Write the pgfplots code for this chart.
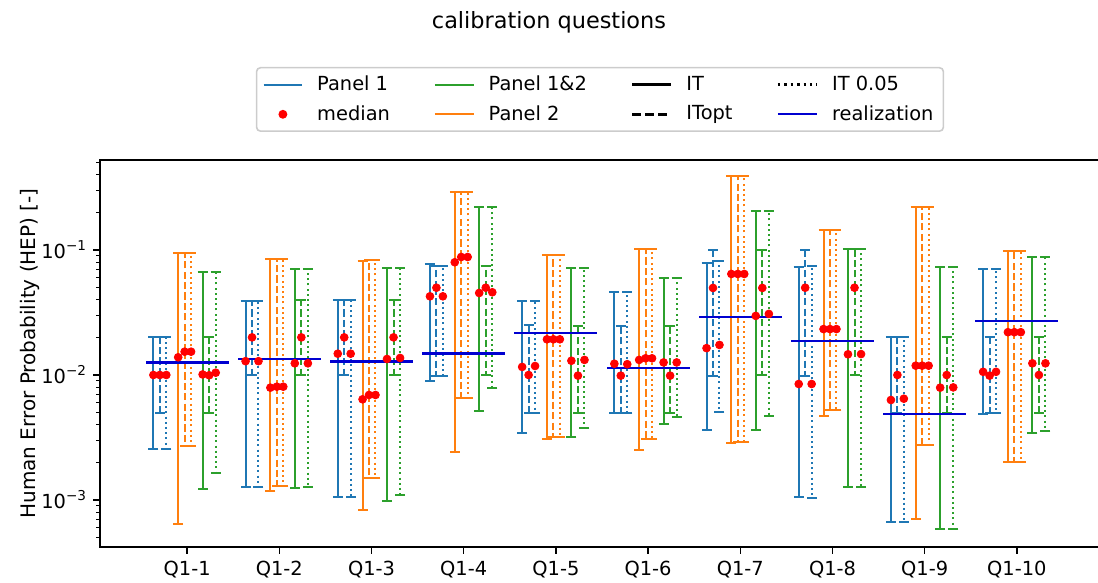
\documentclass[border=0pt]{standalone}
\usepackage{pgfplots}
\pgfplotsset{compat=1.18}
\usepackage{pgfplotstable}
\usepackage{fontspec}
\setmainfont{DejaVu Sans}

\definecolor{c1}{HTML}{1F77B4}
\definecolor{c2}{HTML}{FF7F0E}
\definecolor{c3}{HTML}{2CA02C}
\definecolor{realblue}{HTML}{0000D0}

% Panel 1 (blue): median/low/high for IT (1), ITopt (2), IT 0.05 (3)
\pgfplotstableread{
i m1 l1 h1 m2 l2 h2 m3 l3 h3
0 0.0100 0.00254 0.0202 0.0100 0.0050 0.0202 0.0100 0.00256 0.0200
1 0.0129 0.00128 0.0393 0.0200 0.0100 0.0393 0.0129 0.00128 0.0393
2 0.0148 0.00106 0.0396 0.0200 0.0100 0.0396 0.0148 0.00106 0.0396
3 0.0426 0.0089 0.0769 0.0499 0.00988 0.0745 0.0426 0.00988 0.0745
4 0.0116 0.00343 0.0389 0.0100 0.0050 0.0250 0.0118 0.0050 0.0389
5 0.0123 0.0050 0.0461 0.00988 0.0050 0.0248 0.0122 0.0050 0.0461
6 0.0164 0.0036 0.0791 0.0497 0.00988 0.0996 0.0174 0.00503 0.0817
7 0.00847 0.00105 0.0731 0.0499 0.00988 0.1000 0.00847 0.00104 0.0741
8 0.00631 0.00067 0.0200 0.0100 0.0050 0.0200 0.00646 0.00067 0.0200
9 0.0106 0.00491 0.0705 0.00988 0.0050 0.0200 0.0106 0.0050 0.0705
}\pone

% Panel 2 (orange)
\pgfplotstableread{
i m1 l1 h1 m2 l2 h2 m3 l3 h3
0 0.01386 0.000643 0.0951 0.01536 0.00269 0.0951 0.01536 0.00269 0.0951
1 0.00792 0.00119 0.0853 0.00806 0.00129 0.0853 0.00806 0.00129 0.0853
2 0.00639 0.000827 0.0817 0.00692 0.0015 0.0824 0.00692 0.0015 0.0824
3 0.0798 0.00242 0.2896 0.0879 0.00659 0.2896 0.0879 0.00659 0.2896
4 0.0193 0.0031 0.0912 0.0193 0.00318 0.0912 0.0193 0.00318 0.0912
5 0.0132 0.0025 0.1014 0.0136 0.00308 0.1014 0.0136 0.00308 0.1014
6 0.0643 0.00288 0.391 0.0643 0.00293 0.391 0.0643 0.00293 0.391
7 0.0233 0.00473 0.1445 0.0233 0.00525 0.1445 0.0233 0.00525 0.1445
8 0.01187 0.0007 0.22 0.01187 0.00274 0.22 0.01187 0.00274 0.22
9 0.0220 0.00201 0.0977 0.0220 0.00201 0.0977 0.0220 0.00201 0.0977
}\ptwo

% Panel 1&2 (green)
\pgfplotstableread{
i m1 l1 h1 m2 l2 h2 m3 l3 h3
0 0.0101 0.00122 0.0667 0.00995 0.0050 0.0200 0.01043 0.001654 0.0667
1 0.0124 0.00125 0.0705 0.0200 0.0100 0.0396 0.0124 0.00126 0.0705
2 0.01343 0.00099 0.0718 0.0200 0.0100 0.0396 0.01368 0.0011 0.0718
3 0.0453 0.00519 0.2208 0.0499 0.0100 0.0741 0.0459 0.00782 0.2208
4 0.0130 0.00321 0.0718 0.00988 0.0050 0.0248 0.0132 0.00379 0.0718
5 0.0126 0.00406 0.0594 0.00988 0.0050 0.0248 0.0126 0.00464 0.0594
6 0.0297 0.00363 0.206 0.0497 0.0100 0.1000 0.0308 0.00467 0.206
7 0.01464 0.00126 0.1019 0.0499 0.0100 0.1019 0.0147 0.00126 0.1019
8 0.00792 0.000582 0.0726 0.00999 0.0050 0.0200 0.00796 0.000582 0.0735
9 0.0124 0.00343 0.0874 0.0100 0.0050 0.0200 0.0124 0.00355 0.0874
}\pboth

% realization
\pgfplotstableread{
i r
0 0.01256
1 0.01343
2 0.0128
3 0.0149
4 0.0217
5 0.01132
6 0.0292
7 0.0187
8 0.00488
9 0.0270
}\preal

% #1 table, #2 x offset, #3 colour, #4 dash style, #5 column suffix
\newcommand{\ebar}[5]{%
\addplot[forget plot, draw=none, mark=none,
  error bars/.cd, y dir=both, y explicit, error mark=-,
  error bar style={draw=#3, line width=1pt, #4},
  error mark options={draw=#3, solid, line width=1pt, mark size=2.5pt, rotate=90}]
  table[x expr=\thisrow{i}+#2, y=m#5,
        y error plus expr=\thisrow{h#5}-\thisrow{m#5},
        y error minus expr=\thisrow{m#5}-\thisrow{l#5}] {#1};
}
\newcommand{\med}[3]{%
\addplot[forget plot, only marks, mark=*, draw=red, fill=red, mark size=1.95pt]
  table[x expr=\thisrow{i}+#2, y=m#3] {#1};
}
\newcommand{\expo}[1]{10\raisebox{0.42em}{\fontsize{6.8}{8}\selectfont −#1}}

\tikzset{dsh/.style={dash pattern=on 3.6pt off 1.6pt}, dtt/.style={dash pattern=on 1pt off 1.6pt}}

\begin{document}
\begin{tikzpicture}
\begin{axis}[
  at={(0,0)}, anchor=south west,
  scale only axis, width=502pt, height=193.5pt,
  ymode=log, ymin=4.207e-4, ymax=0.5248,
  xmin=-0.945, xmax=9.945,
  xtick={0,...,9},
  xticklabels={Q1-1,Q1-2,Q1-3,Q1-4,Q1-5,Q1-6,Q1-7,Q1-8,Q1-9,Q1-10},
  ytick={1e-3,1e-2,1e-1},
  yticklabels={\expo{3},\expo{2},\expo{1}},
  minor ytick={5e-4,6e-4,7e-4,8e-4,9e-4,2e-3,3e-3,4e-3,5e-3,6e-3,7e-3,8e-3,9e-3,2e-2,3e-2,4e-2,5e-2,6e-2,7e-2,8e-2,9e-2,2e-1,3e-1,4e-1,5e-1},
  tick align=outside, tick pos=left,
  major tick length=3.4pt, minor tick length=1.9pt,
  every tick/.append style={black, line width=0.75pt},
  every minor tick/.append style={line width=0.6pt},
  axis line style={line width=0.8pt},
  tick label style={font=\fontsize{9.7}{11.6}\selectfont},
  label style={font=\fontsize{9.7}{11.6}\selectfont},
  ylabel={Human Error Probability (HEP) [-]},
  every axis y label/.style={at={(axis description cs:-0.0697,0.5)}, rotate=90, anchor=center},
  title={calibration questions},
  every axis title/.style={at={(axis description cs:0.4472,1.3566)}, anchor=center, font=\fontsize{11.2}{13.4}\selectfont},
  legend columns=4,
  legend cell align=left,
  legend image code/.code={\draw[mark repeat=2,mark phase=2] plot coordinates {(0cm,0cm) (0.34cm,0cm) (0.68cm,0cm)};},
  legend style={at={(axis description cs:0.498,1.0724)}, anchor=south,
    draw=black!20, rounded corners=2pt, line width=0.8pt,
    font=\fontsize{9.7}{11.6}\selectfont,
    /tikz/every odd column/.append style={column sep=5pt},
    /tikz/every even column/.append style={column sep=20pt},
    row sep=2pt},
]
% legend entries (row-wise order)
\addlegendimage{c1, line width=1pt}
\addlegendentry{Panel 1}
\addlegendimage{c3, line width=1pt}
\addlegendentry{Panel 1\&2}
\addlegendimage{black, line width=1.4pt}
\addlegendentry{IT}
\addlegendimage{black, line width=1.4pt, dash pattern=on 1.2pt off 2pt}
\addlegendentry{IT 0.05}
\addlegendimage{only marks, mark=*, draw=red, fill=red, mark size=1.8pt}
\addlegendentry{median}
\addlegendimage{c2, line width=1pt}
\addlegendentry{Panel 2}
\addlegendimage{black, line width=1.4pt, dash pattern=on 4.5pt off 2pt}
\addlegendentry{ITopt}
\addlegendimage{realblue, line width=1pt}
\addlegendentry{realization}

% error bars
\ebar{\pone}{-0.366}{c1}{solid}{1}
\ebar{\pone}{-0.296}{c1}{dsh}{2}
\ebar{\pone}{-0.226}{c1}{dtt}{3}
\ebar{\ptwo}{-0.097}{c2}{solid}{1}
\ebar{\ptwo}{-0.027}{c2}{dsh}{2}
\ebar{\ptwo}{0.043}{c2}{dtt}{3}
\ebar{\pboth}{0.168}{c3}{solid}{1}
\ebar{\pboth}{0.239}{c3}{dsh}{2}
\ebar{\pboth}{0.310}{c3}{dtt}{3}

% realization
\addplot[forget plot, draw=none, mark=none,
  error bars/.cd, x dir=both, x fixed=0.45, error mark=none,
  error bar style={draw=realblue, line width=1.2pt, solid}]
  table[x=i, y=r] {\preal};

% medians
\med{\pone}{-0.366}{1}
\med{\pone}{-0.296}{2}
\med{\pone}{-0.226}{3}
\med{\ptwo}{-0.097}{1}
\med{\ptwo}{-0.027}{2}
\med{\ptwo}{0.043}{3}
\med{\pboth}{0.168}{1}
\med{\pboth}{0.239}{2}
\med{\pboth}{0.310}{3}
\end{axis}
\pgfresetboundingbox
\useasboundingbox (-50pt,-18pt) rectangle (499pt,273.5pt);
\end{tikzpicture}
\end{document}
